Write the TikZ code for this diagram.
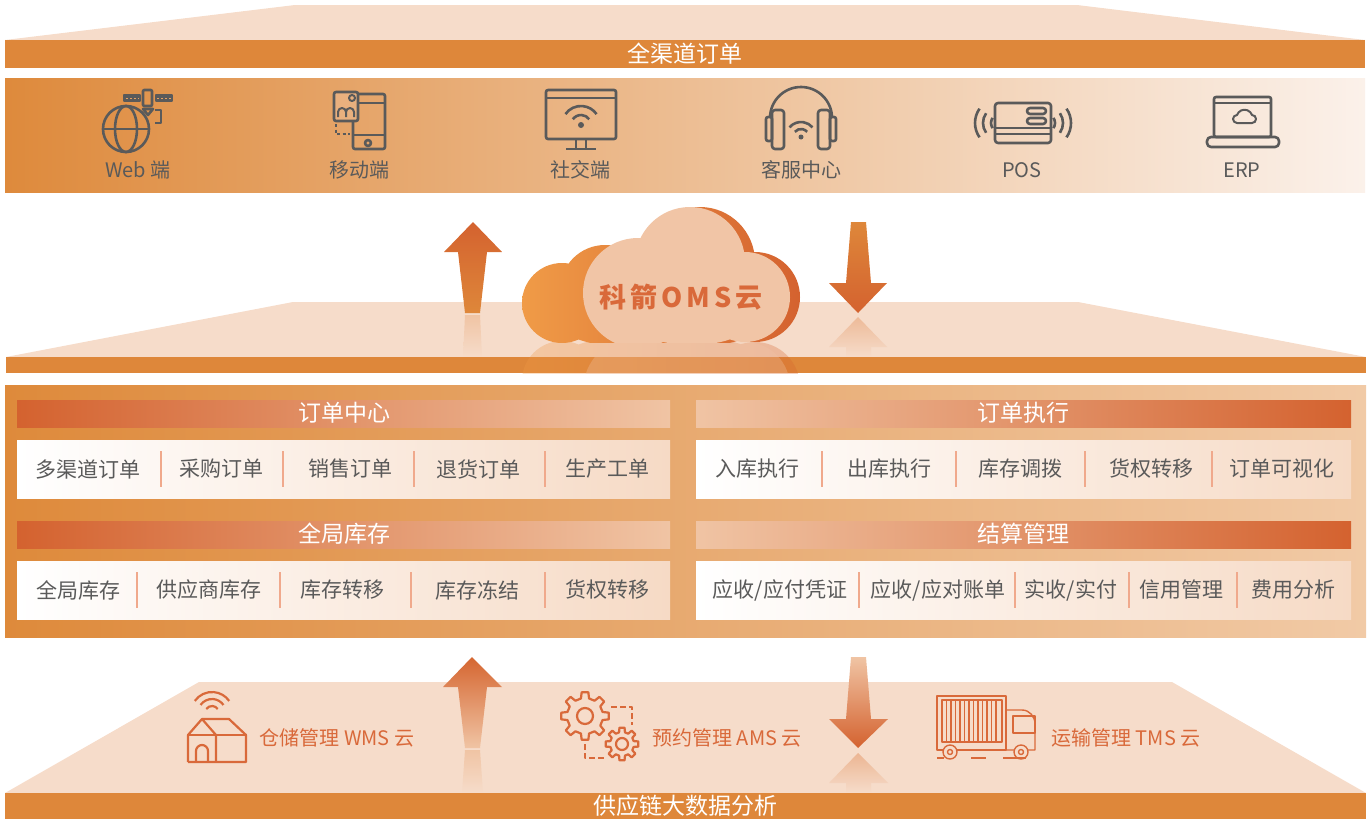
\documentclass[tikz,border=0pt]{standalone}
\usepackage{fontspec}
\setmainfont{Noto Sans CJK SC}
\usetikzlibrary{positioning,calc}

\definecolor{bar}{HTML}{DE873A}
\definecolor{pale}{HTML}{F6DCCA}
\definecolor{ink}{HTML}{5A5A5A}
\definecolor{rust}{HTML}{D9693A}
\definecolor{deep}{HTML}{D4622F}
\definecolor{blush}{HTML}{F0C4A4}
\definecolor{divcol}{HTML}{F0A98C}
\definecolor{puff}{HTML}{F1C5A6}
\definecolor{cloudl}{HTML}{F09B47}
\definecolor{bandl}{HTML}{DE8A3C}
\definecolor{bandm}{HTML}{F4D6C0}
\definecolor{bandr}{HTML}{FBF1EA}
\definecolor{blockl}{HTML}{DE8A3B}
\definecolor{blockm}{HTML}{EDBF96}
\definecolor{blockr}{HTML}{F1CAA6}
\definecolor{rowr}{HTML}{F6DAC5}
\definecolor{cardfill}{HTML}{E9B07E}

\tikzset{
bartext/.style = {text=white, inner sep=0pt, font=\fontsize{23}{26}\selectfont},
label/.style   = {text=ink, inner sep=0pt, font=\fontsize{20}{24}\selectfont},
head/.style    = {text=white, inner sep=0pt, font=\fontsize{23}{26}\selectfont},
item/.style    = {text=ink, inner sep=0pt, font=\fontsize{21}{24}\selectfont},
cloudlabel/.style = {text=rust, inner sep=0pt,
  font=\fontsize{27}{30}\selectfont\bfseries\addfontfeatures{LetterSpace=15}},
svc/.style     = {text=rust, inner sep=0pt, font=\fontsize{20}{24}\selectfont},
icon/.style    = {draw=ink, line width=2.6pt, line join=round},
oicon/.style   = {draw=rust, line width=2.2pt, line join=round},
divider/.style = {draw=divcol, line width=2.6pt},
}

% cloud outlines, all lobes turning the same way
\newcommand\backlobes{(562,303) circle[radius=40] (605,290) circle[radius=45]
  (700,262) circle[radius=55] (755,297) circle[radius=45] (648,293) circle[radius=55]
  (660,325) ellipse[x radius=100, y radius=25]}
\newcommand\frontlobes{(638,293) circle[radius=55] (690,262) circle[radius=55]
  (745,297) circle[radius=45] (692,320) ellipse[x radius=60, y radius=25]}

\begin{document}
\begin{tikzpicture}[x=1pt, y=-1pt]
\useasboundingbox (0,0) rectangle (1372,819);

%%% channels
\fill[pale] (5,40) -- (295,5) -- (1077,5) -- (1365,40) -- cycle;
\fill[bar] (5,40) rectangle (1365,68);
\node[bartext] (channels) at (685,54) {全渠道订单};
\shade[left color=bandl, middle color=bandm, right color=bandr] (5,78) rectangle (1365,192);

% web
\draw[icon] (126,129) circle[radius=23];
\draw[icon] (126,129) ellipse[x radius=11, y radius=23];
\draw[icon] (103,129) -- (149,129);
\draw[icon, fill=ink] (124,95) rectangle (140,101);
\draw[icon, fill=ink] (156,95) rectangle (172,101);
\draw[bandl!80!white, line width=1pt, dash pattern=on 2pt off 2pt] (126,98) -- (139,98) (157,98) -- (171,98);
\draw[icon, rounded corners=1pt] (143,90) rectangle (152,106);
\draw[icon] (143,109) -- (153,109) -- (148,115) -- cycle;
\draw[icon] (155,110) -- (161,110) -- (161,123) -- (155,123);
\node[label] (web) at (138,170) {Web 端};

% mobile
\draw[icon, rounded corners=2pt] (353,94) rectangle (385,149);
\draw[icon] (353,103) -- (385,103);
\draw[icon] (353,135) -- (385,135);
\draw[icon] (368,143) circle[radius=3];
\draw[icon, fill=cardfill, rounded corners=2pt] (334,92) rectangle (358,121);
\draw[icon, line width=2pt] (352,98) circle[radius=3];
\draw[icon, line width=2pt] (338,117) -- (338,112) arc[start angle=180, end angle=360, radius=4] -- (346,117)
  (346,112) arc[start angle=180, end angle=360, radius=4] -- (354,117);
\draw[icon, line width=2.2pt, dash pattern=on 3pt off 2.5pt] (336,124) -- (336,134) -- (350,134);
\node[label] (mobile) at (359,170) {移动端};

% social
\draw[icon, rounded corners=2pt] (546,90) rectangle (616,139);
\draw[icon] (546,98) -- (616,98);
\draw[icon] (576,139) -- (576,148) (586,139) -- (586,148);
\draw[icon] (566,149) -- (596,149);
\fill[ink] (581,125) circle[radius=3];
\foreach \r in {10,19}
  \draw[icon] (581,125) ++(215:\r) arc[start angle=215, end angle=325, radius=\r];
\node[label] (social) at (580,170) {社交端};

% service
\draw[icon] (770,118) arc[start angle=180, end angle=360, radius=31];
\draw[icon, rounded corners=3pt] (772,110) rectangle (784,149);
\draw[icon, rounded corners=2pt] (766,117) rectangle (772,141);
\draw[icon, rounded corners=3pt] (818,110) rectangle (830,149);
\draw[icon, rounded corners=2pt] (830,117) rectangle (836,141);
\fill[ink] (801,137) circle[radius=2.5];
\foreach \r in {8,15}
  \draw[icon] (801,137) ++(220:\r) arc[start angle=220, end angle=320, radius=\r];
\node[label] (service) at (801,170) {客服中心};

% pos
\draw[icon, rounded corners=3pt] (995,103) rectangle (1051,143);
\draw[icon] (995,128) -- (1051,128) (995,134) -- (1051,134);
\draw[icon, rounded corners=3pt] (1027,108) rectangle (1046,114);
\draw[icon, rounded corners=3pt] (1027,118) rectangle (1046,124);
\foreach \r in {9,17,25} {
  \draw[icon] (1000,123) ++(145:\r) arc[start angle=145, end angle=215, radius=\r];
  \draw[icon] (1046,123) ++(-35:\r) arc[start angle=-35, end angle=35, radius=\r];
}
\node[label] (pos) at (1022,170) {POS};

% erp
\draw[icon, rounded corners=2pt] (1214,97) rectangle (1271,137);
\draw[icon] (1214,103) -- (1271,103);
\draw[icon, rounded corners=4pt] (1207,137) rectangle (1279,147);
\draw[icon, line width=2pt] (1237,123) arc[start angle=90, end angle=270, radius=4]
  arc[start angle=200, end angle=340, radius=8]
  arc[start angle=270, end angle=450, radius=4] -- cycle;
\node[label] (erp) at (1242,170) {ERP};

%%% oms
\fill[pale] (6,357) -- (293,302) -- (1078,302) -- (1366,357) -- cycle;
\shade[top color=blush, bottom color=pale] (465,315) -- (480,315) -- (482,357) -- (463,357) -- cycle;
\shade[top color=blush!90!deep, bottom color=pale] (858,317) -- (887,347) -- (871,347) -- (871,357)
  -- (846,357) -- (846,347) -- (829,347) -- cycle;
\fill[bar] (6,357) rectangle (1366,373);
\begin{scope}
  \clip (500,342) rectangle (820,373);
  \begin{scope}[shift={(0,684)}, yscale=-1, opacity=.3]
    \shade[left color=cloudl, right color=deep] \backlobes;
    \fill[puff] \frontlobes;
  \end{scope}
\end{scope}

\shade[top color=deep, bottom color=bar] (473,222) -- (502,252) -- (487,252) -- (480,313)
  -- (465,313) -- (458,252) -- (444,252) -- cycle;
\shade[top color=bar, bottom color=deep] (851,222) -- (866,222) -- (871,283) -- (887,283)
  -- (858,313) -- (829,283) -- (846,283) -- cycle;

\begin{scope}
  \clip (500,190) rectangle (820,342);
  \shade[left color=cloudl, right color=deep] \backlobes;
  \fill[puff] \frontlobes;
\end{scope}
\node[cloudlabel] (oms) at (681,297) {科箭OMS云};

%%% modules
\shade[left color=blockl, middle color=blockm, right color=blockr] (5,385) rectangle (1366,637);

\shade[left color=deep, right color=blush] (17,400) rectangle (670,427);
\node[head] (ordercenter) at (344,413) {订单中心};
\shade[left color=blush, right color=deep] (696,400) rectangle (1351,427);
\node[head] (orderexec) at (1023,413) {订单执行};
\shade[left color=deep, right color=blush] (17,521) rectangle (670,548);
\node[head] (stock) at (344,534) {全局库存};
\shade[left color=blush, right color=deep] (696,521) rectangle (1351,548);
\node[head] (settle) at (1023,534) {结算管理};

\foreach \y in {440,561} {
  \shade[left color=white, middle color=white, right color=rowr] (17,\y) rectangle (670,\y+58);
  \shade[left color=white, middle color=white, right color=rowr] (696,\y) rectangle (1351,\y+58);
}

\foreach \x/\t [count=\i] in {88/多渠道订单, 221/采购订单, 350/销售订单, 478/退货订单, 607/生产工单}
  \node[item] (order-\i) at (\x,469) {\t};
\foreach \x/\t [count=\i] in {78/全局库存, 209/供应商库存, 342/库存转移, 477/库存冻结, 607/货权转移}
  \node[item] (stock-\i) at (\x,590) {\t};
\foreach \x/\t [count=\i] in {757/入库执行, 889/出库执行, 1020/库存调拨, 1151/货权转移, 1282/订单可视化}
  \node[item] (exec-\i) at (\x,469) {\t};
\foreach \x/\t [count=\i] in {780/{应收/应付凭证}, 938/{应收/应对账单}, 1071/{实收/实付}, 1181/信用管理, 1293/费用分析}
  \node[item] (settle-\i) at (\x,590) {\t};

\foreach \x in {161,283,414,545,822,956,1085,1212}
  \draw[divider] (\x,451) -- (\x,487);
\foreach \x in {137,280,411,545,859,1015,1129,1237}
  \draw[divider] (\x,572) -- (\x,608);

%%% supply chain
\fill[pale] (5,793) -- (199,682) -- (1172,682) -- (1366,793) -- cycle;
\shade[top color=blush, bottom color=pale] (465,750) -- (480,750) -- (483,793) -- (462,793) -- cycle;
\shade[top color=blush!85!deep, bottom color=pale] (858,753) -- (888,783) -- (871,783) -- (871,793)
  -- (846,793) -- (846,783) -- (829,783) -- cycle;
\shade[top color=deep!90!bar, bottom color=blush] (472,657) -- (502,687) -- (487,687) -- (480,748)
  -- (465,748) -- (458,687) -- (443,687) -- cycle;
\shade[top color=blush, bottom color=deep] (851,657) -- (866,657) -- (871,719) -- (888,719)
  -- (858,748) -- (829,719) -- (846,719) -- cycle;
\fill[bar] (5,793) rectangle (1366,819);
\node[bartext] (bigdata) at (685,806) {供应链大数据分析};

% warehouse
\foreach \r in {7,14,21}
  \draw[oicon] (212,713) ++(215:\r) arc[start angle=215, end angle=325, radius=\r];
\draw[oicon] (188,762) -- (188,735) -- (202,719) -- (216,735) -- (216,762);
\draw[oicon] (202,719) -- (229,719) -- (246,735) -- (246,762) -- (188,762);
\draw[oicon] (188,735) -- (246,735);
\draw[oicon] (196,762) -- (196,751) arc[start angle=180, end angle=360, radius=6] -- (208,762);
\node[svc] (wms) at (337,738) {仓储管理 WMS 云};

% appointment
\begin{scope}[shift={(585,716)}]
  \draw[oicon] (-13:18) \foreach \a in {0,45,...,315} {-- (\a-13:18) -- (\a-8:24) -- (\a+8:24) -- (\a+13:18)} -- cycle;
  \draw[oicon] (0,0) circle[radius=8];
\end{scope}
\begin{scope}[shift={(622,744)}]
  \draw[oicon] (-14:12) \foreach \a in {0,45,...,315} {-- (\a-14:12) -- (\a-9:16.5) -- (\a+9:16.5) -- (\a+14:12)} -- cycle;
  \draw[oicon] (0,0) circle[radius=6];
\end{scope}
\draw[oicon, dash pattern=on 6pt off 3pt] (611,707) -- (632,707) -- (632,725);
\draw[oicon, dash pattern=on 6pt off 3pt] (585,744) -- (585,758) -- (606,758);
\node[svc] (ams) at (727,738) {预约管理 AMS 云};

% transport
\begin{scope}[line width=1.4pt]
  \draw[oicon, line width=1.4pt] (937,696) rectangle (1006,750);
  \draw[oicon, line width=1.4pt] (942,700) rectangle (1002,742);
  \foreach \x in {946.5,951,...,998}
    \draw[rust, line width=1.2pt] (\x,700) -- (\x,742);
  \draw[oicon, line width=1.4pt] (1006,710) -- (1022,710) to[out=0, in=90] (1035,724) -- (1035,750) -- (1006,750);
  \draw[oicon, line width=1.4pt] (1013,716) rectangle (1035,733);
  \foreach \x in {950,1021} {
    \draw[oicon, fill=pale, line width=1.4pt] (\x,752) circle[radius=7];
    \draw[oicon, line width=1.4pt] (\x,752) circle[radius=2.5];
  }
  \draw[oicon, line width=1.4pt] (937,758) -- (944,758) (971,758) -- (986,758) (1003,758) -- (1026,758);
\end{scope}
\node[svc] (tms) at (1126,738) {运输管理 TMS 云};
\end{tikzpicture}
\end{document}
